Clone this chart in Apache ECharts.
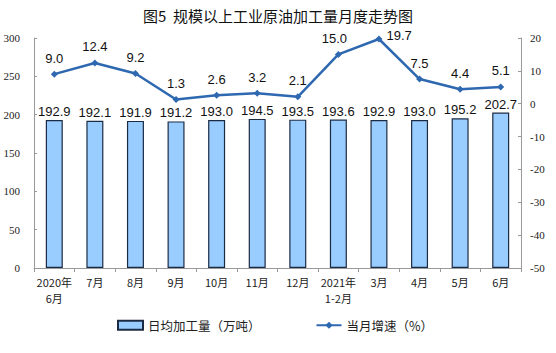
<!DOCTYPE html>
<html>
<head>
<meta charset="utf-8">
<script src="https://cdn.jsdelivr.net/npm/echarts@6/dist/echarts.min.js"></script>
<style>
  html, body { margin: 0; padding: 0; background: #fff; }
  #chart { width: 556px; height: 353px; }
</style>
</head>
<body>
<div id="chart"></div>
<script>
// chart data
const months = ['2020年\n6月', '7月', '8月', '9月', '10月', '11月', '12月', '2021年\n1-2月', '3月', '4月', '5月', '6月'];
const dailyOutput = [192.9, 192.1, 191.9, 191.2, 193.0, 194.5, 193.5, 193.6, 192.9, 193.0, 195.2, 202.7];
const monthlyGrowth = [9.0, 12.4, 9.2, 1.3, 2.6, 3.2, 2.1, 15.0, 19.7, 7.5, 4.4, 5.1];

const serif = '"Liberation Serif", "Times New Roman", serif';
const sans = '"Liberation Sans", Arial, sans-serif';
const cjk = '"Noto Sans CJK SC", sans-serif';

const chart = echarts.init(document.getElementById('chart'), null, { renderer: 'svg' });

// the peak label sits to the right of its point, the 15.0 one leans left
const growthData = monthlyGrowth.map((v, i) => {
  if (i === 8) return { value: v, label: { position: 'right', distance: 4, offset: [0, -3] } };
  if (i === 7) return { value: v, label: { offset: [-4, 0] } };
  return v;
});

chart.setOption({
  animation: false,
  title: {
    text: '图5  规模以上工业原油加工量月度走势图',
    left: 'center',
    top: 3,
    textStyle: { fontFamily: cjk, fontSize: 15, fontWeight: 'normal', color: '#111' }
  },
  legend: {
    top: 314,
    left: 112,
    itemGap: 55,
    itemWidth: 25,
    itemHeight: 9,
    textStyle: { fontFamily: cjk, fontSize: 12.5, color: '#222' },
    data: [
      { name: '日均加工量（万吨）', icon: 'rect' },
      { name: '当月增速（%）' }
    ]
  },
  grid: { left: 34, right: 35, top: 38, bottom: 85 },
  xAxis: {
    type: 'category',
    data: months,
    axisLine: { lineStyle: { color: '#999' } },
    axisTick: { show: true, length: 4, lineStyle: { color: '#999' } },
    axisLabel: { interval: 0, fontFamily: cjk, fontSize: 11, color: '#222', lineHeight: 16, margin: 6 }
  },
  yAxis: [
    {
      type: 'value',
      min: 0, max: 300, interval: 50,
      splitLine: { show: false },
      axisLine: { show: true, lineStyle: { color: '#999' } },
      axisTick: { show: true, inside: true, length: 3, lineStyle: { color: '#999' } },
      axisLabel: { fontFamily: serif, fontSize: 11, color: '#222', margin: 14 }
    },
    {
      type: 'value',
      min: -50, max: 20, interval: 10,
      splitLine: { show: false },
      axisLine: { show: true, lineStyle: { color: '#999' } },
      axisTick: { show: true, inside: true, length: 3, lineStyle: { color: '#999' } },
      axisLabel: { fontFamily: serif, fontSize: 11, color: '#222', margin: 9 }
    }
  ],
  series: [
    {
      name: '日均加工量（万吨）',
      type: 'bar',
      data: dailyOutput,
      barWidth: 17,
      itemStyle: { color: '#99CCFF', borderColor: '#1c2b44', borderWidth: 1.2 },
      label: {
        show: true,
        position: 'top',
        distance: 2,
        fontFamily: sans,
        fontSize: 13,
        color: '#111',
        formatter: p => p.value.toFixed(1)
      }
    },
    {
      name: '当月增速（%）',
      type: 'line',
      yAxisIndex: 1,
      data: growthData,
      symbol: 'diamond',
      symbolSize: 7,
      lineStyle: { color: '#2E68B0', width: 2.5 },
      itemStyle: { color: '#2E68B0' },
      label: {
        show: true,
        position: 'top',
        distance: 6,
        fontFamily: sans,
        fontSize: 13,
        color: '#111',
        formatter: p => p.value.toFixed(1)
      }
    }
  ]
});
</script>
</body>
</html>
